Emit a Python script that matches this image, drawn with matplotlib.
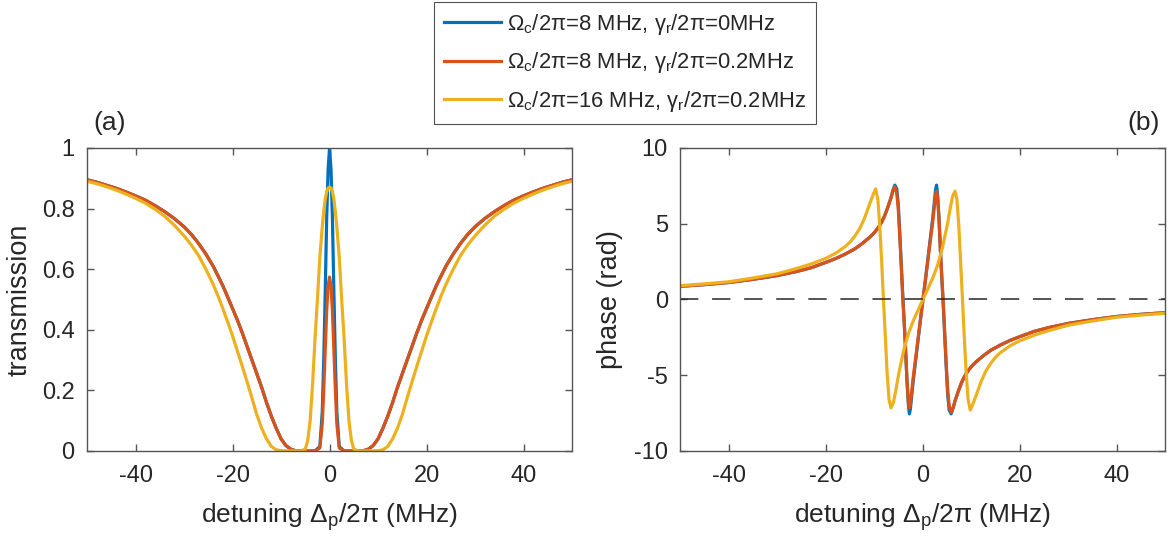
import matplotlib
matplotlib.use('Agg')
import matplotlib.pyplot as plt

plt.rcParams['font.family'] = ['Liberation Sans', 'DejaVu Sans']
plt.rcParams['mathtext.fontset'] = 'custom'
plt.rcParams['mathtext.rm'] = 'Liberation Sans'
plt.rcParams['mathtext.it'] = 'Liberation Sans'
plt.rcParams['mathtext.bf'] = 'Liberation Sans:bold'
plt.rcParams['axes.unicode_minus'] = False

# series colours (MATLAB default order)
BLUE = '#0072BD'
RED = '#D95319'
YELLOW = '#EDB120'
INK = '#262626'
FRAME = '#555555'

labels = [r'$\Omega_c/2\pi$=8 MHz, $\gamma_r/2\pi$=0MHz',
          r'$\Omega_c/2\pi$=8 MHz, $\gamma_r/2\pi$=0.2MHz',
          r'$\Omega_c/2\pi$=16 MHz, $\gamma_r/2\pi$=0.2MHz']

# ---- (a) transmission ----
det_t8 = [-50, -48, -46, -44, -42, -40, -38, -36, -34, -32, -30, -28.5, -27, -25.5, -24, -23,
          -22, -21, -20, -19, -18, -17, -16, -15, -14, -13, -12, -11, -10, -9, -8, -7, -5,
          -3, -2, -1.5, -1.2, -0.9, -0.6, -0.3, 0, 0.3, 0.6, 0.9, 1.2, 1.5, 2, 3, 5, 7, 8,
          9, 10, 11, 12, 13, 14, 15, 16, 17, 18, 19, 20, 21, 22, 23, 24, 25.5, 27, 28.5, 30,
          32, 34, 36, 38, 40, 42, 44, 46, 48, 50]
trans_blue = [0.895, 0.887, 0.877, 0.867, 0.855, 0.842, 0.828, 0.81, 0.79, 0.767, 0.74, 0.715,
              0.685, 0.65, 0.61, 0.578, 0.545, 0.508, 0.47, 0.432, 0.39, 0.345, 0.30, 0.255,
              0.21, 0.16, 0.115, 0.075, 0.04, 0.018, 0.006, 0.001, 0, 0, 0.015, 0.13, 0.30,
              0.52, 0.76, 0.93, 1.0, 0.93, 0.76, 0.52, 0.30, 0.13, 0.015, 0, 0, 0.001, 0.006,
              0.018, 0.04, 0.075, 0.115, 0.16, 0.21, 0.255, 0.30, 0.345, 0.39, 0.432, 0.47,
              0.508, 0.545, 0.578, 0.61, 0.65, 0.685, 0.715, 0.74, 0.767, 0.79, 0.81, 0.828,
              0.842, 0.855, 0.867, 0.877, 0.887, 0.895]
trans_red = [0.895, 0.887, 0.877, 0.867, 0.855, 0.842, 0.828, 0.81, 0.79, 0.767, 0.74, 0.715,
             0.685, 0.65, 0.61, 0.578, 0.545, 0.508, 0.47, 0.432, 0.39, 0.345, 0.30, 0.255,
             0.21, 0.16, 0.115, 0.075, 0.04, 0.018, 0.006, 0.001, 0, 0, 0.01, 0.09, 0.20,
             0.33, 0.46, 0.545, 0.574, 0.545, 0.46, 0.33, 0.20, 0.09, 0.01, 0, 0, 0.001, 0.006,
             0.018, 0.04, 0.075, 0.115, 0.16, 0.21, 0.255, 0.30, 0.345, 0.39, 0.432, 0.47,
             0.508, 0.545, 0.578, 0.61, 0.65, 0.685, 0.715, 0.74, 0.767, 0.79, 0.81, 0.828,
             0.842, 0.855, 0.867, 0.877, 0.887, 0.895]

det_t16 = [-50, -48, -46, -44, -42, -40, -38, -36, -34, -32, -30, -28.5, -27, -25.5, -24, -23,
           -22, -21, -20, -19, -18, -17, -16, -15, -14, -13, -12, -11, -10, -8, -6, -5, -4.5,
           -4, -3.5, -3, -2.5, -2, -1.5, -1.2, -0.9, -0.6, -0.3, 0, 0.3, 0.6, 0.9, 1.2, 1.5,
           2, 2.5, 3, 3.5, 4, 4.5, 5, 6, 8, 10, 11, 12, 13, 14, 15, 16, 17, 18, 19, 20, 21,
           22, 23, 24, 25.5, 27, 28.5, 30, 32, 34, 36, 38, 40, 42, 44, 46, 48, 50]
trans_yellow = [0.89, 0.882, 0.872, 0.861, 0.848, 0.834, 0.818, 0.798, 0.775, 0.745, 0.71,
                0.68, 0.645, 0.60, 0.55, 0.512, 0.47, 0.426, 0.38, 0.33, 0.28, 0.228, 0.175,
                0.12, 0.075, 0.04, 0.015, 0.004, 0.001, 0, 0, 0.006, 0.035, 0.10, 0.22, 0.37,
                0.50, 0.64, 0.74, 0.79, 0.83, 0.855, 0.868, 0.871, 0.868, 0.855, 0.83, 0.79,
                0.74, 0.64, 0.50, 0.37, 0.22, 0.10, 0.035, 0.006, 0, 0, 0.001, 0.004, 0.015,
                0.04, 0.075, 0.12, 0.175, 0.228, 0.28, 0.33, 0.38, 0.426, 0.47, 0.512, 0.55,
                0.60, 0.645, 0.68, 0.71, 0.745, 0.775, 0.798, 0.818, 0.834, 0.848, 0.861,
                0.872, 0.882, 0.89]

# ---- (b) phase ----
det_p8 = [-50, -45, -40, -35, -30, -26, -23, -20, -18, -16, -14, -12.5, -11, -10.2, -9.5, -9,
          -8.5, -8, -7.4, -6.6, -6.2, -5.8, -5.4, -5.1, -4.8, -4.5, -4.2, -3.9, -3.6, -3.3,
          -3.0, -2.8, -2.6, -2.4, -2.0, -1.5, -1.0, -0.5, 0, 0.5, 1.0, 1.5, 2.0, 2.4, 2.6,
          2.8, 3.0, 3.3, 3.6, 3.9, 4.2, 4.5, 4.8, 5.1, 5.4, 5.8, 6.2, 6.6, 7.4, 8, 8.5, 9,
          9.5, 10.2, 11, 12.5, 14, 16, 18, 20, 23, 26, 30, 35, 40, 45, 50]
phase_blue = [0.87, 0.98, 1.12, 1.33, 1.58, 1.85, 2.1, 2.45, 2.7, 3.0, 3.35, 3.7, 4.1, 4.35,
              4.62, 4.85, 5.12, 5.45, 5.95, 6.7, 7.2, 7.55, 7.3, 6.3, 4.5, 2.5, 0.5, -1.3,
              -3.2, -5.4, -7.0, -7.55, -7.25, -6.6, -5.35, -4.0, -2.65, -1.3, 0, 1.3, 2.65,
              4.0, 5.35, 6.6, 7.25, 7.55, 7.0, 5.4, 3.2, 1.3, -0.5, -2.5, -4.5, -6.3, -7.3,
              -7.55, -7.2, -6.7, -5.95, -5.45, -5.12, -4.85, -4.62, -4.35, -4.1, -3.7, -3.35,
              -3.0, -2.7, -2.45, -2.1, -1.85, -1.58, -1.33, -1.12, -0.98, -0.87]
phase_red = [0.87, 0.98, 1.12, 1.33, 1.58, 1.85, 2.1, 2.45, 2.7, 3.0, 3.35, 3.7, 4.1, 4.35,
             4.62, 4.85, 5.12, 5.45, 5.95, 6.7, 7.15, 7.45, 7.0, 6.0, 4.3, 2.3, 0.3, -1.4,
             -3.2, -5.3, -6.8, -7.15, -6.9, -6.3, -5.1, -3.85, -2.55, -1.25, 0, 1.25, 2.55,
             3.85, 5.1, 6.3, 6.9, 7.15, 6.8, 5.3, 3.2, 1.4, -0.3, -2.3, -4.3, -6.0, -7.0,
             -7.45, -7.15, -6.7, -5.95, -5.45, -5.12, -4.85, -4.62, -4.35, -4.1, -3.7, -3.35,
             -3.0, -2.7, -2.45, -2.1, -1.85, -1.58, -1.33, -1.12, -0.98, -0.87]

det_p16 = [-50, -45, -40, -35, -30, -26, -23, -20, -18, -16, -15, -14, -13, -12, -11, -10.3,
           -9.75, -9.3, -8.9, -8.5, -8.15, -7.8, -7.4, -7.0, -6.6, -6.1, -5.6, -5, -4, -3, -2,
           -1, 0, 1, 2, 3, 4, 5, 5.6, 6.1, 6.6, 7.0, 7.4, 7.8, 8.15, 8.5, 8.9, 9.3, 9.75,
           10.3, 11, 12, 13, 14, 15, 16, 18, 20, 23, 26, 30, 35, 40, 45, 50]
phase_yellow = [0.91, 1.03, 1.17, 1.42, 1.7, 2.05, 2.35, 2.72, 3.05, 3.5, 3.8, 4.2, 4.7, 5.4,
                6.3, 6.9, 7.3, 6.6, 4.8, 2.4, 0, -2.2, -4.8, -6.6, -7.15, -6.8, -6.0, -4.9,
                -3.4, -2.25, -1.4, -0.7, 0, 0.7, 1.4, 2.25, 3.4, 4.9, 6.0, 6.8, 7.15, 6.6,
                4.8, 2.2, 0, -2.4, -4.8, -6.6, -7.3, -6.9, -6.3, -5.4, -4.7, -4.2, -3.8, -3.5,
                -3.05, -2.72, -2.35, -2.05, -1.7, -1.42, -1.17, -1.03, -0.91]

xticks = [-40, -20, 0, 20, 40]
trans_ticks = [0, 0.2, 0.4, 0.6, 0.8, 1]
trans_ticklabels = ['0', '0.2', '0.4', '0.6', '0.8', '1']
phase_ticks = [-10, -5, 0, 5, 10]


def style_axes(ax):
    # MATLAB-like box: ticks inside on all four sides
    for s in ax.spines.values():
        s.set_color(FRAME)
        s.set_linewidth(1.0)
    ax.tick_params(direction='in', length=5, width=1.0, color=FRAME, labelcolor=INK,
                   labelsize=17, top=True, right=True)
    ax.tick_params(axis='x', pad=10)
    ax.tick_params(axis='y', pad=9)
    ax.set_xlim(-50, 50)
    ax.set_xticks(xticks)
    ax.set_xlabel(r'detuning $\Delta_p/2\pi$ (MHz)', fontsize=19, color=INK)
    ax.xaxis.set_label_coords(0.5, -0.165)


fig = plt.figure(figsize=(11.73, 5.39), dpi=100)
ax1 = fig.add_axes([0.0742, 0.1633, 0.4135, 0.5622])
ax2 = fig.add_axes([0.5801, 0.1633, 0.4135, 0.5622])

lw = 2.3
h1, = ax1.plot(det_t8, trans_blue, color=BLUE, lw=lw, solid_joinstyle='round')
h2, = ax1.plot(det_t8, trans_red, color=RED, lw=lw, solid_joinstyle='round')
h3, = ax1.plot(det_t16, trans_yellow, color=YELLOW, lw=lw, solid_joinstyle='round')
style_axes(ax1)
ax1.set_ylim(0, 1)
ax1.set_yticks(trans_ticks)
ax1.set_yticklabels(trans_ticklabels)
ax1.set_ylabel('transmission', fontsize=19.5, color=INK)
ax1.yaxis.set_label_coords(-0.112, 0.5)

ax2.plot(det_p8, phase_blue, color=BLUE, lw=lw, solid_joinstyle='round')
ax2.plot(det_p8, phase_red, color=RED, lw=lw, solid_joinstyle='round')
ax2.plot(det_p16, phase_yellow, color=YELLOW, lw=lw, solid_joinstyle='round')
ax2.axhline(0, color=INK, lw=1.1, dashes=(12, 9))
style_axes(ax2)
ax2.set_ylim(-10, 10)
ax2.set_yticks(phase_ticks)
ax2.set_ylabel('phase (rad)', fontsize=19.5, color=INK)
ax2.yaxis.set_label_coords(-0.118, 0.5)

fig.text(0.0793, 0.759, '(a)', fontsize=19, color=INK, va='baseline')
fig.text(0.989, 0.759, '(b)', fontsize=19, color=INK, ha='right', va='baseline')

leg = fig.legend([h1, h2, h3], labels, loc='upper center', bbox_to_anchor=(0.5328, 0.9963),
                 fontsize=15.8, frameon=True, fancybox=False, handlelength=2.6,
                 handletextpad=0.3, labelspacing=0.62, borderpad=0.45, borderaxespad=0)
leg.get_frame().set_edgecolor(INK)
leg.get_frame().set_linewidth(0.8)
for t in leg.get_texts():
    t.set_color(INK)

fig.savefig('out.png', dpi=100)
